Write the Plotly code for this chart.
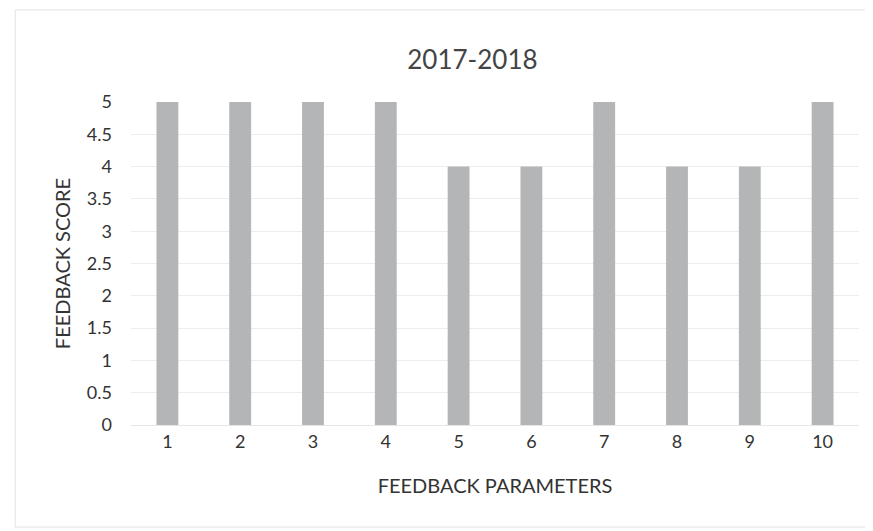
import plotly.graph_objects as go

categories = ["1", "2", "3", "4", "5", "6", "7", "8", "9", "10"]
scores = [5, 5, 5, 5, 4, 4, 5, 4, 4, 5]
y_ticks = [0, 0.5, 1, 1.5, 2, 2.5, 3, 3.5, 4, 4.5, 5]
y_tick_labels = ["0", "0.5", "1", "1.5", "2", "2.5", "3", "3.5", "4", "4.5", "5"]

font_family = "Lato, Liberation Sans, Arial, sans-serif"
text_color = "#333333"

fig = go.Figure()
fig.add_trace(go.Bar(
    x=categories,
    y=scores,
    marker=dict(color="#b4b5b7", line=dict(width=0)),
    width=0.3,
))

fig.update_layout(
    width=873,
    height=531,
    paper_bgcolor="white",
    plot_bgcolor="white",
    margin=dict(l=123, r=22, t=94, b=114),
    showlegend=False,
    font=dict(family=font_family, color=text_color, size=18),
    title=dict(
        text="2017-2018",
        x=0.532, xanchor="center",
        y=0.902, yanchor="middle",
        font=dict(size=26, color="#444444", family=font_family),
    ),
    xaxis=dict(
        type="category",
        showgrid=False,
        showline=True,
        linecolor="#e6e6e6",
        linewidth=1,
        ticks="",
        tickfont=dict(size=18, color=text_color),
        title=dict(text="FEEDBACK PARAMETERS", font=dict(size=20, color=text_color), standoff=28),
    ),
    yaxis=dict(
        range=[0, 5],
        tickvals=y_ticks,
        ticktext=y_tick_labels,
        showgrid=True,
        gridcolor="#ededed",
        gridwidth=1,
        zeroline=False,
        ticks="",
        ticklabelstandoff=18,
        tickfont=dict(size=18, color=text_color),
        title=dict(text="FEEDBACK SCORE", font=dict(size=20, color=text_color), standoff=10),
    ),
    shapes=[dict(
        type="rect", xref="paper", yref="paper",
        x0=-0.159, x1=1.04, y0=-0.316, y1=1.285,
        line=dict(color="#e2e2e2", width=1),
    )],
)

fig.write_html("out.html")
